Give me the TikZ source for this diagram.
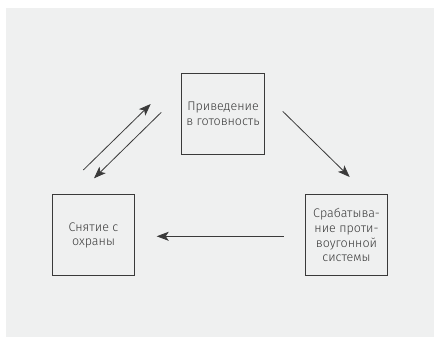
\documentclass[tikz,border=0pt]{standalone}
\usepackage{fontspec}
\setmainfont{Fira Sans}[UprightFont=* Light]
\usetikzlibrary{arrows.meta}
\definecolor{bg}{HTML}{EFF0F0}
\definecolor{ink}{HTML}{3A3A3A}
\begin{document}
\begin{tikzpicture}[x=1pt,y=-1pt,
  box/.style={draw=ink,line width=1pt,minimum width=82.5pt,minimum height=81pt,inner sep=0pt,
    align=center,text=ink,font=\fontsize{12.5}{14.6}\selectfont},
  conn/.style={draw=ink,line width=0.8pt,-{Stealth[length=12pt,width=9pt,inset=3pt]}}]
\useasboundingbox (0,0) rectangle (434,338);
\fill[white] (0,0) rectangle (434,338);
\fill[bg] (6,8) rectangle (434,337);
\node[box] (top) at (223,113.8) {Приведение\\в готовность};
\node[box] (left) at (93.5,235.3) {Снятие с\\охраны};
\node[box] (right) at (346.5,235.3) {Срабатыва-\\ние проти-\\воугонной\\системы};
\coordinate (a1) at (83.3,170);
\coordinate (a2) at (150.7,104);
\coordinate (b1) at (161.3,112.3);
\coordinate (b2) at (94,178.3);
\coordinate (c1) at (282.7,111.3);
\coordinate (c2) at (349.7,177);
\coordinate (d1) at (283.7,236.3);
\coordinate (d2) at (156.7,236.3);
\draw[conn] (a1) -- (a2);
\draw[conn] (b1) -- (b2);
\draw[conn] (c1) -- (c2);
\draw[conn] (d1) -- (d2);
\end{tikzpicture}
\end{document}
